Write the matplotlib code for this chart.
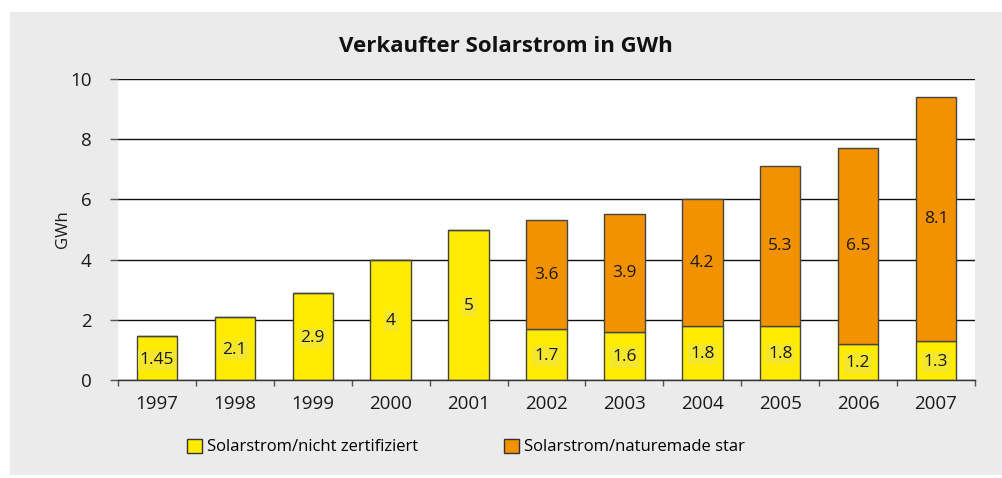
import matplotlib
matplotlib.use("Agg")
import matplotlib.pyplot as plt
from matplotlib.patches import Rectangle, Patch
import numpy as np

years = ["1997", "1998", "1999", "2000", "2001", "2002", "2003", "2004", "2005", "2006", "2007"]
nicht_zert = [1.45, 2.1, 2.9, 4, 5, 1.7, 1.6, 1.8, 1.8, 1.2, 1.3]
naturemade = [0, 0, 0, 0, 0, 3.6, 3.9, 4.2, 5.3, 6.5, 8.1]
yellow_labels = ["1.45", "2.1", "2.9", "4", "5", "1.7", "1.6", "1.8", "1.8", "1.2", "1.3"]
orange_labels = ["", "", "", "", "", "3.6", "3.9", "4.2", "5.3", "6.5", "8.1"]

plt.rcParams['font.family'] = ['Open Sans', 'DejaVu Sans']

W, H = 1003, 478
fig = plt.figure(figsize=(W / 100, H / 100), dpi=100)
fig.patch.set_facecolor('white')
bg = Rectangle((10 / W, 1 - 475 / H), 993 / W, (475 - 12) / H,
               transform=fig.transFigure, facecolor='#ebebeb',
               edgecolor='none', zorder=-10)
fig.add_artist(bg)

ax = fig.add_axes([118 / W, 1 - 380 / H, (975 - 118) / W, (380 - 79) / H])
ax.set_zorder(1)
ax.set_facecolor('white')

x = np.arange(len(years))
yel = '#ffec00'
ora = '#f39200'
bw = 0.52
ax.bar(x, nicht_zert, width=bw, color=yel, edgecolor='#444444', linewidth=1, zorder=3)
ax.bar(x, naturemade, width=bw, bottom=nicht_zert, color=ora, edgecolor='#444444',
       linewidth=1, zorder=3)

tick_fs = 13.5
lab_fs = 12.5
for i in range(len(years)):
    ax.text(x[i], nicht_zert[i] / 2 - 0.05, yellow_labels[i], ha='center', va='center',
            fontsize=lab_fs, color='#1a1a1a', zorder=4,
            bbox=dict(boxstyle='square,pad=0.12', facecolor='#f3e62c', edgecolor='none'))
    if orange_labels[i]:
        ax.text(x[i], nicht_zert[i] + naturemade[i] / 2, orange_labels[i], ha='center',
                va='center', fontsize=lab_fs, color='#1a1a1a', zorder=4)

ax.set_xlim(-0.5, len(years) - 0.5)
ax.set_ylim(0, 10)
ax.set_yticks([0, 2, 4, 6, 8, 10])
ax.yaxis.grid(True, color='#111111', linewidth=1, zorder=1)
ax.set_axisbelow(True)
for s in ['top', 'right', 'left']:
    ax.spines[s].set_visible(False)
ax.spines['bottom'].set_color('#333333')
ax.spines['bottom'].set_linewidth(1)
ax.spines['bottom'].set_zorder(5)

ax.set_xticks(x)
ax.set_xticklabels(years)
ax.set_xticks(np.arange(-0.5, len(years)), minor=True)
ax.tick_params(axis='x', which='major', length=0, pad=11, labelsize=tick_fs, colors='#1a1a1a')
ax.tick_params(axis='x', which='minor', length=4.5, width=1, color='#555555', direction='out')
ax.tick_params(axis='y', length=6, width=1, color='#555555', labelsize=tick_fs, pad=13,
               labelcolor='#1a1a1a')
ax.set_ylabel('GWh', fontsize=12, color='#1a1a1a')
ax.yaxis.set_label_coords(-0.055, 0.5)

fig.text(506 / W, 1 - 46 / H, 'Verkaufter Solarstrom in GWh', ha='center', va='center',
         fontsize=16, fontweight='bold', color='#111111')

handles = [Patch(facecolor=yel, edgecolor='#333333', label='Solarstrom/nicht zertifiziert'),
           Patch(facecolor=ora, edgecolor='#333333', label='Solarstrom/naturemade star')]
fig.legend(handles=handles, loc='center', bbox_to_anchor=(466 / W, 1 - 447 / H), ncol=2,
           frameon=False, fontsize=12, handlelength=0.9, handleheight=0.9,
           handletextpad=0.3, columnspacing=5.1)

fig.savefig('out.png', dpi=100, facecolor=fig.get_facecolor())
